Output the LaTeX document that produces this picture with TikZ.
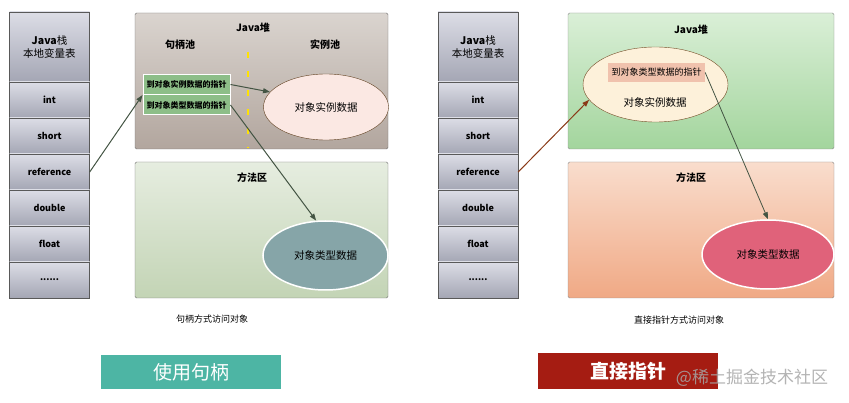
\documentclass[tikz,border=0pt]{standalone}
\usepackage{fontspec}
\setmainfont{Noto Sans CJK SC}
\usetikzlibrary{arrows.meta,shapes.geometric}

\definecolor{cellTop}{HTML}{DCDDE6}
\definecolor{cellBot}{HTML}{A4A6B4}
\definecolor{lheapTop}{HTML}{DAD4CF}
\definecolor{lheapBot}{HTML}{B2A69E}
\definecolor{lmethTop}{HTML}{E6EDE0}
\definecolor{lmethBot}{HTML}{C3D4B5}
\definecolor{handleGreen}{HTML}{8DBE88}
\definecolor{instPink}{HTML}{FBE8E3}
\definecolor{typeTeal}{HTML}{86A5A8}
\definecolor{rheapTop}{HTML}{DAEFD7}
\definecolor{rheapBot}{HTML}{A3D59D}
\definecolor{rmethTop}{HTML}{F9DDCD}
\definecolor{rmethBot}{HTML}{F0A985}
\definecolor{objCream}{HTML}{FDF1DA}
\definecolor{ptrPink}{HTML}{F0C2AD}
\definecolor{typeRed}{HTML}{E0627A}
\definecolor{tealBtn}{HTML}{4DB5A4}
\definecolor{redBtn}{HTML}{A51C12}
\definecolor{arrowGreen}{HTML}{435443}
\definecolor{arrowBrown}{HTML}{8A3A18}

\newcommand{\cellDots}{......}

\tikzset{stackcell/.style={draw=black!65,top color=cellTop,bottom color=cellBot,
           minimum width=80pt,minimum height=36pt,inner sep=0pt,
           font=\bfseries\fontsize{9}{10}\selectfont},
         area/.style={draw=black!55,rounded corners=1.5pt,minimum height=136pt,inner sep=0pt},
         title/.style={font=\bfseries\fontsize{10}{12}\selectfont},
         handle/.style={draw=white,line width=1pt,fill=handleGreen,minimum width=87pt,
           minimum height=20pt,inner sep=0pt,font=\bfseries\fontsize{8}{9}\selectfont},
         blob/.style={ellipse,inner sep=0pt,font=\fontsize{10.5}{12}\selectfont},
         link/.style={-{Triangle[length=7pt,width=5pt]},line width=1pt},
         btn/.style={minimum height=33pt,inner sep=0pt,text=white}}

\begin{document}
\begin{tikzpicture}[x=1pt,y=-1pt]
\useasboundingbox (0,0) rectangle (849,403);

% stacks
\foreach \s/\x in {L/49.5,R/478}{
 \node[stackcell,minimum height=70pt,font=\fontsize{10.5}{14}\selectfont] (\s head) at (\x,47)
   {\shortstack{\textbf{Java}栈\\本地变量表}};
 \foreach \t/\n [count=\i] in {int/int,short/short,reference/ref,double/double,float/float,\cellDots/dots}
  \node[stackcell] (\s\n) at (\x,64+36*\i) {\t};
}

% handle access
\node[area,top color=lheapTop,bottom color=lheapBot,minimum width=253pt] (lheap) at (261.5,81) {};
\node[title] (lheapT) at (253,28) {Java堆};
\node[title] (hpool) at (180,45) {句柄池};
\node[title] (ipool) at (325,45) {实例池};
\draw[draw=yellow!85!orange,line width=2.5pt,dash pattern=on 6pt off 13pt] (248,52) -- (248,148);
\node[handle] (hp1) at (186.5,84.5) {到对象实例数据的指针};
\node[handle] (hp2) at (186.5,105) {到对象类型数据的指针};
\node[blob,draw=black!50!brown,fill=instPink,minimum width=125pt,minimum height=66pt] (linst) at (326,107) {对象实例数据};

\node[area,top color=lmethTop,bottom color=lmethBot,minimum width=253pt] (lmeth) at (261.5,230) {};
\node[title] (lmethT) at (252,178) {方法区};
\node[blob,draw=white,line width=1.5pt,fill=typeTeal,minimum width=125pt,minimum height=69pt] (ltype) at (325.5,255.5) {对象类型数据};

\draw[link,arrowGreen] (Lref.east) -- (hp1.south west);
\draw[link,arrowGreen] (hp1.east) -- (linst.165);
\draw[link,arrowGreen] (hp2.east) -- (ltype.105);

% direct pointer
\node[area,draw=black!45,top color=rheapTop,bottom color=rheapBot,minimum width=266pt] (rheap) at (701,81) {};
\node[title] (rheapT) at (691,30) {Java堆};
\node[blob,draw=black!40!brown,fill=objCream,minimum width=145pt,minimum height=75pt] (robj) at (655.5,84.5) {};
\node[fill=ptrPink,minimum width=97pt,minimum height=19pt,inner sep=0pt,font=\fontsize{9}{10}\selectfont] (rptr) at (656.5,72.5) {到对象类型数据的指针};
\node[font=\fontsize{10.5}{12}\selectfont] (robjT) at (655,102) {对象实例数据};

\node[area,draw=black!45,top color=rmethTop,bottom color=rmethBot,minimum width=266pt] (rmeth) at (701,230) {};
\node[title] (rmethT) at (691,178) {方法区};
\node[blob,draw=white,line width=1.5pt,fill=typeRed,minimum width=132pt,minimum height=69pt] (rtype) at (768,254.5) {对象类型数据};

\draw[link,arrowBrown] (Rref.east) -- (robj.193);
\draw[link,arrowGreen,line width=0.8pt] (rptr.east) -- (rtype.north);

% captions
\node[font=\fontsize{9}{10}\selectfont] (lcap) at (212,319) {句柄方式访问对象};
\node[font=\fontsize{9}{10}\selectfont] (rcap) at (679,320) {直接指针方式访问对象};
\node[btn,fill=tealBtn,minimum width=180pt,font=\fontsize{19}{20}\selectfont] (lbtn) at (191,372) {使用句柄};
\node[btn,fill=redBtn,minimum width=180pt,minimum height=36pt,font=\bfseries\fontsize{19}{20}\selectfont] (rbtn) at (628,371) {直接指针};
\node[text=black!35,opacity=0.85,font=\fontsize{17}{18}\selectfont] (mark) at (752,378) {@稀土掘金技术社区};
\end{tikzpicture}
\end{document}
